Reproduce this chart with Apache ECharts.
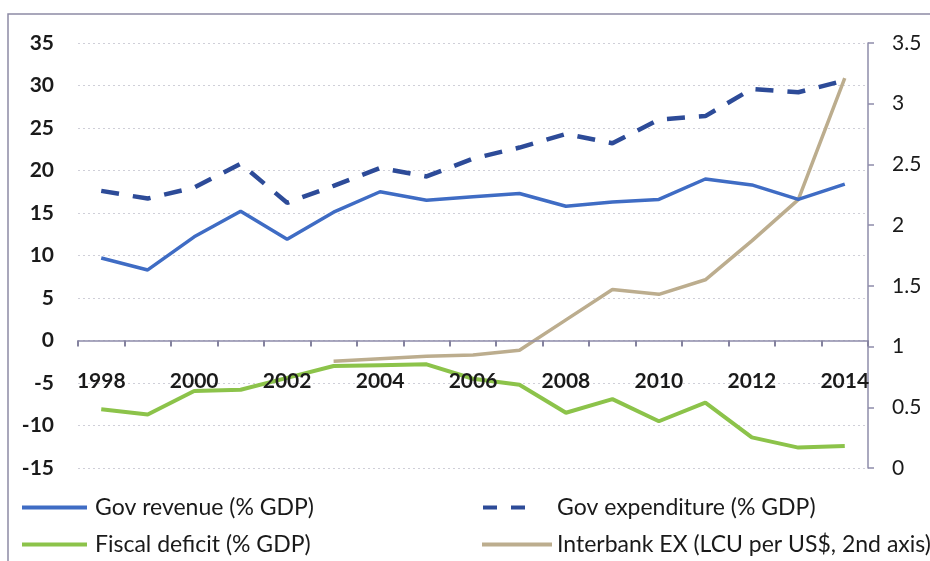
<!DOCTYPE html>
<html>
<head>
<meta charset="utf-8">
<script src="https://cdn.jsdelivr.net/npm/echarts@6/dist/echarts.min.js"></script>
<style>
  html, body { margin: 0; padding: 0; background: #ffffff; }
  #chart { width: 930px; height: 561px; }
</style>
</head>
<body>
<div id="chart"></div>
<script>
// Fiscal indicators and exchange rate, 1998-2014
const years = ['1998','1999','2000','2001','2002','2003','2004','2005','2006','2007','2008','2009','2010','2011','2012','2013','2014'];
const govRevenue = [9.7, 8.3, 12.2, 15.2, 11.9, 15.1, 17.5, 16.5, 16.9, 17.3, 15.8, 16.3, 16.6, 19.0, 18.3, 16.6, 18.4];
const govExpenditure = [17.6, 16.7, 18.0, 20.8, 16.2, 18.2, 20.3, 19.3, 21.4, 22.7, 24.3, 23.2, 26.0, 26.4, 29.6, 29.2, 30.6];
const fiscalDeficit = [-8.1, -8.7, -5.95, -5.8, -4.4, -3.0, -2.9, -2.8, -4.5, -5.2, -8.5, -6.9, -9.5, -7.3, -11.4, -12.6, -12.4];
const interbankEx = [null, null, null, null, null, 0.88, 0.90, 0.92, 0.93, 0.97, 1.22, 1.47, 1.43, 1.55, 1.87, 2.21, 3.21];

const leftTicks = { min: -15, max: 35, interval: 5 };
const rightTicks = { min: 0, max: 3.5, interval: 0.5 };

const FONT = 'Lato';
const AXIS_GREY = '#8e8caa';
const C_REV = '#3f6cc4';
const C_EXP = '#2d4b98';
const C_DEF = '#8cc34a';
const C_EX = '#bcad8e';

const GRID = { left: 78, right: 62, top: 43, bottom: 93 };
const CHART_H = 561;
// The category axis sits on the zero line of the left value axis.
const plotH = CHART_H - GRID.top - GRID.bottom;
const zeroOffset = -plotH * (0 - leftTicks.min) / (leftTicks.max - leftTicks.min);

const chart = echarts.init(document.getElementById('chart'), null, { renderer: 'canvas' });

const LEG_TEXT = { fontFamily: FONT, fontSize: 23, color: '#1a1a1a' };

function legendItem(name, left, top, itemWidth, icon, textPadLeft) {
  return {
    left: left, top: top,
    itemWidth: itemWidth, itemHeight: 4,
    padding: 0,
    selectedMode: false,
    icon: icon,
    data: [name],
    textStyle: Object.assign({}, LEG_TEXT, { padding: [0, 0, 0, textPadLeft] })
  };
}

chart.setOption({
  animation: false,
  backgroundColor: '#ffffff',
  grid: Object.assign({ containLabel: false, outerBoundsMode: 'none' }, GRID),
  graphic: [{
    type: 'rect',
    shape: { x: 8, y: 14, width: 960, height: 600 },
    style: { fill: 'none', stroke: '#8d8aa5', lineWidth: 1.5 },
    silent: true
  }],
  legend: [
    legendItem('Gov revenue (% GDP)', 22, 496, 65, 'rect', 3),
    legendItem('Fiscal deficit (% GDP)', 22, 533, 65, 'rect', 3),
    legendItem('Gov expenditure (% GDP)', 483, 496, 42, 'path://M0,0H14V4H0Z M28,0H42V4H28Z', 27),
    legendItem('Interbank EX (LCU per US$, 2nd axis)', 482, 533, 70, 'rect', 0)
  ],
  xAxis: {
    type: 'category',
    data: years,
    boundaryGap: true,
    offset: zeroOffset,
    z: 5,
    axisLine: { show: true, onZero: false, lineStyle: { color: AXIS_GREY, width: 1.5 } },
    axisTick: { show: true, inside: false, alignWithLabel: false, interval: 0, length: 6, lineStyle: { color: '#85839f', width: 2 } },
    axisLabel: { interval: 1, margin: 30, fontFamily: FONT, fontWeight: 'bold', fontSize: 21, color: '#1a1a1a' },
    splitLine: { show: false }
  },
  yAxis: [{
    type: 'value',
    position: 'left',
    min: leftTicks.min, max: leftTicks.max, interval: leftTicks.interval,
    axisLine: { show: false },
    axisTick: { show: false },
    axisLabel: { margin: 24, fontFamily: FONT, fontWeight: 'bold', fontSize: 21, color: '#1a1a1a' },
    splitLine: { show: true, lineStyle: { color: '#cfcfd8', width: 1.2, type: [2, 3] } }
  }, {
    type: 'value',
    position: 'right',
    min: rightTicks.min, max: rightTicks.max, interval: rightTicks.interval,
    axisLine: { show: true, lineStyle: { color: AXIS_GREY, width: 1.5 } },
    axisTick: { show: true, length: 6, lineStyle: { color: AXIS_GREY, width: 1.5 } },
    axisLabel: { margin: 24, align: 'left', fontFamily: FONT, fontSize: 21, color: '#1a1a1a' },
    splitLine: { show: false }
  }],
  series: [{
    name: 'Gov revenue (% GDP)',
    type: 'line', yAxisIndex: 0, data: govRevenue,
    symbol: 'none', z: 3,
    lineStyle: { color: C_REV, width: 3.5 }, itemStyle: { color: C_REV }
  }, {
    name: 'Gov expenditure (% GDP)',
    type: 'line', yAxisIndex: 0, data: govExpenditure,
    symbol: 'none', z: 3,
    lineStyle: { color: C_EXP, width: 4.5, type: [18, 14] }, itemStyle: { color: C_EXP }
  }, {
    name: 'Fiscal deficit (% GDP)',
    type: 'line', yAxisIndex: 0, data: fiscalDeficit,
    symbol: 'none', z: 3,
    lineStyle: { color: C_DEF, width: 4 }, itemStyle: { color: C_DEF }
  }, {
    name: 'Interbank EX (LCU per US$, 2nd axis)',
    type: 'line', yAxisIndex: 1, data: interbankEx,
    symbol: 'none', z: 2,
    lineStyle: { color: C_EX, width: 3.5 }, itemStyle: { color: C_EX }
  }]
});
</script>
</body>
</html>
